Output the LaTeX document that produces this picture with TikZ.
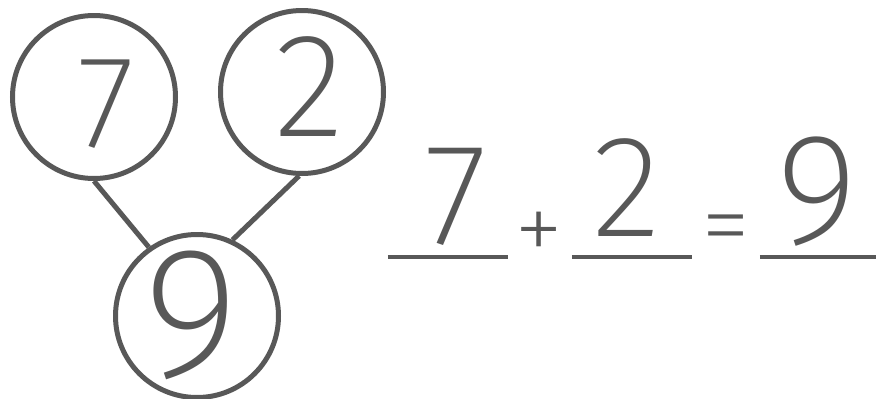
\documentclass[tikz,border=0pt]{standalone}
\usepackage{fontspec}
\usepackage{xcolor}
\usepackage{tikz}
\usetikzlibrary{positioning, calc}
\IfFontExistsTF{Fira Sans ExtraLight}
  {\newfontfamily\handfont{Fira Sans ExtraLight}}
  {\IfFontExistsTF{Fira Sans Thin}
    {\newfontfamily\handfont{Fira Sans Thin}}
    {\IfFontExistsTF{Fira Sans Light}
      {\newfontfamily\handfont{Fira Sans Light}}
      {\IfFontExistsTF{DejaVu Sans ExtraLight}
        {\newfontfamily\handfont{DejaVu Sans ExtraLight}}
        {\newfontfamily\handfont{DejaVu Sans}}}}}
\definecolor{pencil}{RGB}{88,88,88}

\begin{document}
\begin{tikzpicture}[x=1pt, y=-1pt]
  \tikzset{
    bond/.style={draw=pencil, line width=5pt, circle, minimum size=163pt, inner sep=0pt},
    link/.style={draw=pencil, line width=5pt},
    digit/.style={text=pencil, inner sep=0pt, font=\handfont},
    slot/.style={inner sep=0pt, minimum width=120pt, minimum height=0pt},
    rule/.style={draw=pencil, line width=4.5pt}}
  \useasboundingbox (0,0) rectangle (876,399);

  % --- the number bond: two parts above, the whole below
  \node[bond] (part7) at (94,97) {};
  \node[bond] (part2) at (302,92) {};
  \node[bond] (whole) at (197,316) {};
  \node[digit, font=\handfont\fontsize{132}{132}\selectfont] (p7) at (106,104) {7};
  \node[digit, font=\handfont\fontsize{148}{148}\selectfont] (p2) at (309,87) {2};
  \node[digit, font=\handfont\fontsize{186}{186}\selectfont] (w9) at (191,315) {9};

  \draw[link] (part7.-90) -- (whole.125);
  \draw[link] (part2.-92) -- (whole.65);

  % --- the sentence written on the blanks
  \node[slot] (blank1) at (448,257) {};
  \node[slot] (blank2) at (632,257) {};
  \node[slot, minimum width=124pt] (blank3) at (822,257) {};
  \draw[rule] (blank1.west) -- (blank1.east);
  \draw[rule] (blank2.west) -- (blank2.east);
  \draw[rule] (blank3.west) -- (blank3.east);

  \node[digit, font=\handfont\fontsize{145}{145}\selectfont] (e7) at (456,197) {7};
  \node[digit, font=\handfont\fontsize{145}{145}\selectfont] (e2) at (627,188) {2};
  \node[digit, font=\handfont\fontsize{158}{158}\selectfont] (e9) at (817,192) {9};
  \node[digit, font=\handfont\fontsize{100}{100}\selectfont] (plus) at (539,237) {+};
  \node[digit, font=\handfont\fontsize{100}{100}\selectfont] (equals) at (726,237) {=};
\end{tikzpicture}
\end{document}
